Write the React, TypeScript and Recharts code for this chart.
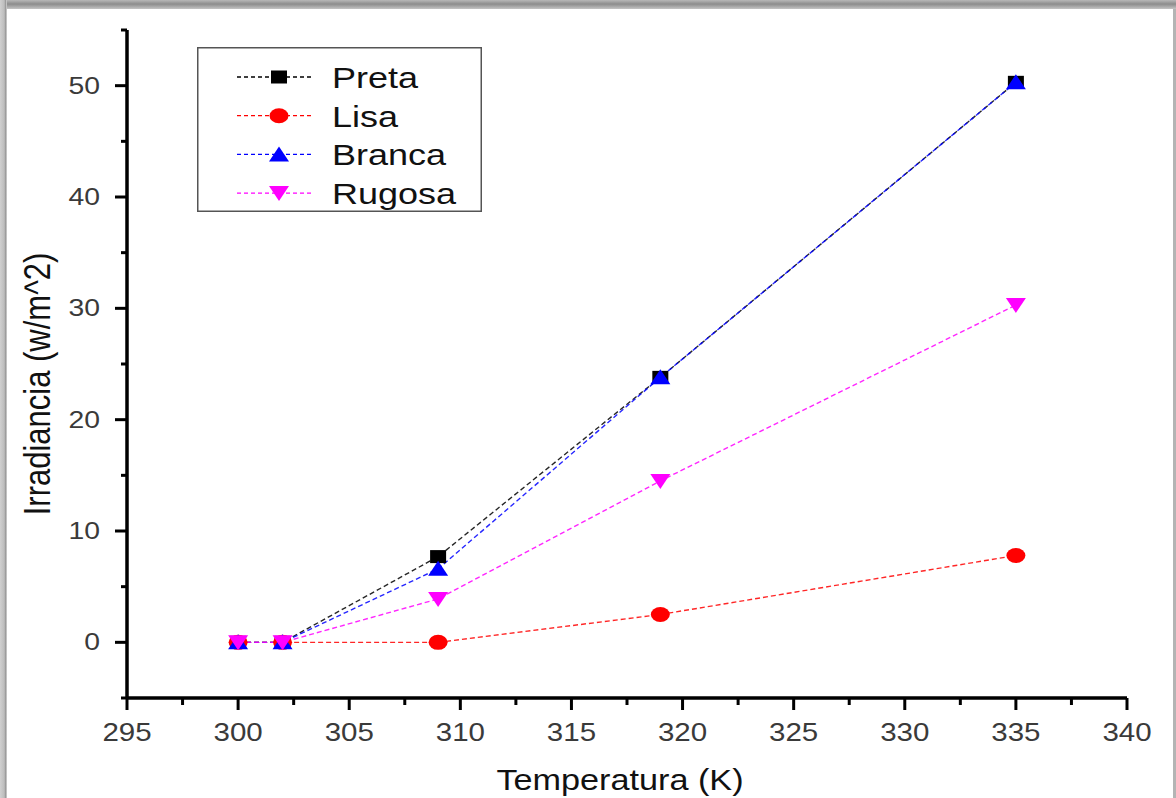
import { LineChart, Line, XAxis, YAxis, Legend } from "recharts";

const temperatures = [300, 302, 309, 319, 335];
const preta = [0, 0, 7.7, 23.8, 50.3];
const lisa = [0, 0, 0, 2.5, 7.8];
const branca = [0, 0, 6.6, 23.8, 50.3];
const rugosa = [0, 0, 3.9, 14.5, 30.3];

const xTicks = [295, 297.5, 300, 302.5, 305, 307.5, 310, 312.5, 315, 317.5, 320, 322.5, 325, 327.5, 330, 332.5, 335, 337.5, 340];
const yTicks = [-5, 0, 5, 10, 15, 20, 25, 30, 35, 40, 45, 50, 55];

const FONT = '"Liberation Sans", Arial, sans-serif';

const SERIES = [
  { key: "preta", name: "Preta", color: "#000000", shape: "square" },
  { key: "lisa", name: "Lisa", color: "#ff0000", shape: "circle" },
  { key: "branca", name: "Branca", color: "#0000ff", shape: "up" },
  { key: "rugosa", name: "Rugosa", color: "#ff00ff", shape: "down" },
];

const data = temperatures.map((t, i) => ({
  t,
  preta: preta[i],
  lisa: lisa[i],
  branca: branca[i],
  rugosa: rugosa[i],
}));

function Marker({ shape, color, cx, cy }: { shape: string; color: string; cx: number; cy: number }) {
  switch (shape) {
    case "square":
      return <rect x={cx - 8} y={cy - 6.5} width={16} height={13} fill={color} />;
    case "circle":
      return <ellipse cx={cx} cy={cy} rx={9.5} ry={7.5} fill={color} />;
    case "up":
      return <polygon points={`${cx},${cy - 8} ${cx + 10},${cy + 7} ${cx - 10},${cy + 7}`} fill={color} />;
    default:
      return <polygon points={`${cx - 10},${cy - 7} ${cx + 10},${cy - 7} ${cx},${cy + 8}`} fill={color} />;
  }
}

const XTick = ({ x, y, payload }: any) => {
  const v = payload.value;
  const major = v % 5 === 0;
  return (
    <g>
      <line x1={x} x2={x} y1={y} y2={y + (major ? 12 : 7)} stroke="#000" strokeWidth={3} />
      {major && (
        <text
          transform={`translate(${x},${y + 43}) scale(1.18,1)`}
          textAnchor="middle"
          fontSize={25}
          fontFamily={FONT}
          fill="#3a3a3a"
        >
          {v}
        </text>
      )}
    </g>
  );
};

const YTick = ({ x, y, payload }: any) => {
  const v = payload.value;
  const major = v % 10 === 0;
  const labelled = major && v >= 0 && v <= 50;
  return (
    <g>
      <line x1={x} x2={x - (major ? 12 : 6)} y1={y} y2={y} stroke="#000" strokeWidth={3} />
      {labelled && (
        <text
          transform={`translate(${x - 27},${y + 8}) scale(1.18,1)`}
          textAnchor="end"
          fontSize={24}
          fontFamily={FONT}
          fill="#3a3a3a"
        >
          {v}
        </text>
      )}
    </g>
  );
};

const LegendBox = () => (
  <svg width={285} height={165} style={{ display: "block" }}>
    <rect x={0.75} y={0.75} width={283.5} height={163.5} fill="#fff" stroke="#555" strokeWidth={1.5} />
    {SERIES.map((s, i) => {
      const cy = 30 + i * 38.7;
      return (
        <g key={s.key}>
          <line x1={40} x2={116} y1={cy} y2={cy} stroke={s.color} strokeDasharray="4 3" strokeWidth={1.3} />
          <Marker shape={s.shape} color={s.color} cx={82} cy={cy} />
          <text transform={`translate(135,${cy + 11}) scale(1.2,1)`} fontSize={30} fontFamily={FONT} fill="#111">
            {s.name}
          </text>
        </g>
      );
    })}
  </svg>
);

export default function App() {
  return (
    <div style={{ position: "fixed", left: 0, top: 0, width: 1176, height: 798, background: "#fff", overflow: "hidden" }}>
      <LineChart width={1176} height={798} data={data} margin={{ top: 30, right: 49, left: 0, bottom: 0 }}>
        <XAxis
          dataKey="t"
          type="number"
          domain={[295, 340]}
          ticks={xTicks}
          interval={0}
          height={100}
          tickSize={0}
          tickMargin={0}
          tickLine={false}
          tick={<XTick />}
          axisLine={{ stroke: "#000", strokeWidth: 3.5 }}
          label={{
            content: () => (
              <text transform="translate(620,790) scale(1.18,1)" textAnchor="middle" fontSize={29} fontFamily={FONT} fill="#111">
                Temperatura (K)
              </text>
            ),
          }}
        />
        <YAxis
          type="number"
          domain={[-5, 55]}
          ticks={yTicks}
          interval={0}
          width={127}
          tickSize={0}
          tickMargin={0}
          tickLine={false}
          tick={<YTick />}
          axisLine={{ stroke: "#000", strokeWidth: 3.5 }}
          label={{
            content: () => (
              <text transform="translate(50,384) scale(1.2,1) rotate(-90)" textAnchor="middle" fontSize={31} fontFamily={FONT} fill="#111">
                Irradiancia (w/m^2)
              </text>
            ),
          }}
        />
        <Legend
          layout="horizontal"
          verticalAlign="middle"
          align="center"
          content={() => <LegendBox />}
          wrapperStyle={{ left: 197, top: 47, width: 285, height: 165 }}
        />
        {SERIES.map((s) => (
          <Line
            key={s.key}
            dataKey={s.key}
            name={s.name}
            type="linear"
            stroke={s.color}
            strokeOpacity={0.85}
            strokeWidth={1.4}
            strokeDasharray="5 3"
            isAnimationActive={false}
            dot={(p: any) => <Marker key={`${s.key}-${p.index}`} shape={s.shape} color={s.color} cx={p.cx} cy={p.cy} />}
            activeDot={false}
          />
        ))}
      </LineChart>
      <div style={{ position: "absolute", left: 0, top: 0, width: 1176, height: 9, background: "linear-gradient(#b8b8b8, #8c8c8c 45%, #c4c4c4)" }} />
      <div style={{ position: "absolute", left: 0, top: 0, width: 7, height: 798, background: "linear-gradient(90deg, #d0d0d0, #bdbdbd 60%, #9a9a9a 80%, #d8d8d8)" }} />
      <div style={{ position: "absolute", left: 1173, top: 9, width: 3, height: 789, background: "#b4b4b4" }} />
    </div>
  );
}
